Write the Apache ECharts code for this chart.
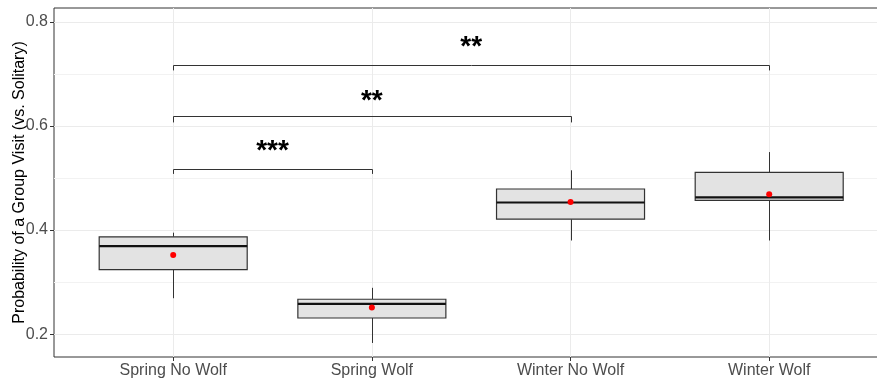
<!DOCTYPE html>
<html>
<head>
<meta charset="utf-8">
<script src="https://cdn.jsdelivr.net/npm/echarts@6/dist/echarts.min.js"></script>
<style>
html,body{margin:0;padding:0;background:#fff;}
#chart{width:877px;height:382px;}
</style>
</head>
<body>
<div id="chart"></div>
<script>
// ---- data ----
var categories = ['Spring No Wolf', 'Spring Wolf', 'Winter No Wolf', 'Winter Wolf'];
var categoryPos = [1, 2, 3, 4];
var whiskerLow  = [0.269, 0.183, 0.380, 0.380];
var q1          = [0.324, 0.231, 0.421, 0.457];
var median      = [0.369, 0.258, 0.453, 0.463];
var q3          = [0.387, 0.267, 0.479, 0.511];
var whiskerHigh = [0.395, 0.289, 0.515, 0.550];
var means       = [0.352, 0.251, 0.454, 0.469];

var bracketFrom   = [1, 1, 1];
var bracketTo     = [2, 3, 4];
var bracketY      = [0.518, 0.619, 0.718];
var bracketTickY  = [0.508, 0.607, 0.707];
var bracketLabelY = [0.551, 0.648, 0.751];
var bracketLabels = ['***', '**', '**'];

var yTicks = [0.2, 0.4, 0.6, 0.8];
var yMinorTicks = [0.3, 0.5, 0.7];

// ---- build ----
var boxData = categoryPos.map(function (x, i) {
  return [x, whiskerLow[i], q1[i], median[i], q3[i], whiskerHigh[i]];
});
var meanData = categoryPos.map(function (x, i) { return [x, means[i]]; });
var bracketData = bracketFrom.map(function (f, i) {
  return [f, bracketTo[i], bracketY[i], bracketTickY[i], bracketLabelY[i], i];
});

var FONT = 'Liberation Sans, Arial, sans-serif';
var chart = echarts.init(document.getElementById('chart'));

chart.setOption({
  animation: false,
  backgroundColor: '#fff',
  grid: {
    left: 54, top: 8, width: 834.4, height: 349,
    containLabel: false, outerBoundsMode: 'none',
    show: true, borderColor: '#333', borderWidth: 1, backgroundColor: 'transparent'
  },
  xAxis: {
    type: 'value', min: 0.4, max: 4.6,
    axisLine: { show: false },
    axisTick: { show: true, length: 4, customValues: categoryPos, lineStyle: { color: '#333' } },
    axisLabel: {
      customValues: categoryPos, margin: 6,
      color: '#4d4d4d', fontSize: 16, fontFamily: FONT,
      formatter: function (v) { return categories[Math.round(v) - 1] || ''; }
    },
    splitLine: { show: true, lineStyle: { color: '#ebebeb', width: 1 } }
  },
  yAxis: [{
    type: 'value', min: 0.156, max: 0.827,
    name: 'Probability of a Group Visit (vs. Solitary)',
    nameLocation: 'middle', nameGap: 26, nameRotate: 90, nameMoveOverlap: false,
    nameTextStyle: { color: '#000', fontSize: 16, fontFamily: FONT },
    axisLine: { show: false },
    axisTick: { show: true, length: 4, customValues: yTicks, lineStyle: { color: '#333' } },
    axisLabel: {
      customValues: yTicks, margin: 6,
      color: '#4d4d4d', fontSize: 16, fontFamily: FONT,
      formatter: function (v) { return v.toFixed(1); }
    },
    splitLine: { show: true, lineStyle: { color: '#ebebeb', width: 1 } }
  }, {
    type: 'value', min: 0.156, max: 0.827, position: 'left',
    axisLine: { show: false },
    axisTick: { show: false, customValues: yMinorTicks },
    axisLabel: { show: false, customValues: yMinorTicks },
    splitLine: { show: true, lineStyle: { color: '#f2f2f2', width: 1 } }
  }],
  series: [{
    type: 'custom',
    data: boxData,
    z: 3,
    renderItem: function (params, api) {
      var x = api.value(0);
      var pLow = api.coord([x, api.value(1)]);
      var pQ1 = api.coord([x, api.value(2)]);
      var pMed = api.coord([x, api.value(3)]);
      var pQ3 = api.coord([x, api.value(4)]);
      var pHigh = api.coord([x, api.value(5)]);
      var w = api.size([0.745, 0])[0];
      var cx = Math.round(pLow[0]) + 0.5;
      return {
        type: 'group',
        children: [
          { type: 'line', shape: { x1: cx, y1: pLow[1], x2: cx, y2: pQ1[1] }, style: { stroke: '#333', lineWidth: 1 } },
          { type: 'line', shape: { x1: cx, y1: pQ3[1], x2: cx, y2: pHigh[1] }, style: { stroke: '#333', lineWidth: 1 } },
          { type: 'rect', shape: { x: pQ3[0] - w / 2, y: pQ3[1], width: w, height: pQ1[1] - pQ3[1] },
            style: { fill: '#e3e3e3', stroke: '#333', lineWidth: 1.2 } },
          { type: 'line', shape: { x1: pMed[0] - w / 2, y1: pMed[1], x2: pMed[0] + w / 2, y2: pMed[1] },
            style: { stroke: '#111', lineWidth: 2.2 } }
        ]
      };
    }
  }, {
    type: 'scatter',
    data: meanData,
    symbol: 'circle', symbolSize: 6,
    itemStyle: { color: '#ff0000', opacity: 1 },
    z: 5
  }, {
    type: 'custom',
    data: bracketData,
    z: 4,
    renderItem: function (params, api) {
      var x1 = api.value(0), x2 = api.value(1);
      var a = api.coord([x1, api.value(3)]);
      var b = api.coord([x1, api.value(2)]);
      var c = api.coord([x2, api.value(2)]);
      var d = api.coord([x2, api.value(3)]);
      var t = api.coord([(x1 + x2) / 2, api.value(4)]);
      var yb = Math.round(b[1]) + 0.5;
      return {
        type: 'group',
        children: [
          { type: 'polyline', shape: { points: [[Math.round(a[0]) + 0.5, a[1]], [Math.round(b[0]) + 0.5, yb], [Math.round(c[0]) + 0.5, yb], [Math.round(d[0]) + 0.5, d[1]]] },
            style: { stroke: '#333', lineWidth: 1, fill: null } },
          { type: 'text', x: t[0], y: t[1],
            style: { text: bracketLabels[api.value(5)], align: 'center', verticalAlign: 'middle',
              font: 'bold 28px ' + FONT, fill: '#000' } }
        ]
      };
    }
  }]
});
</script>
</body>
</html>
